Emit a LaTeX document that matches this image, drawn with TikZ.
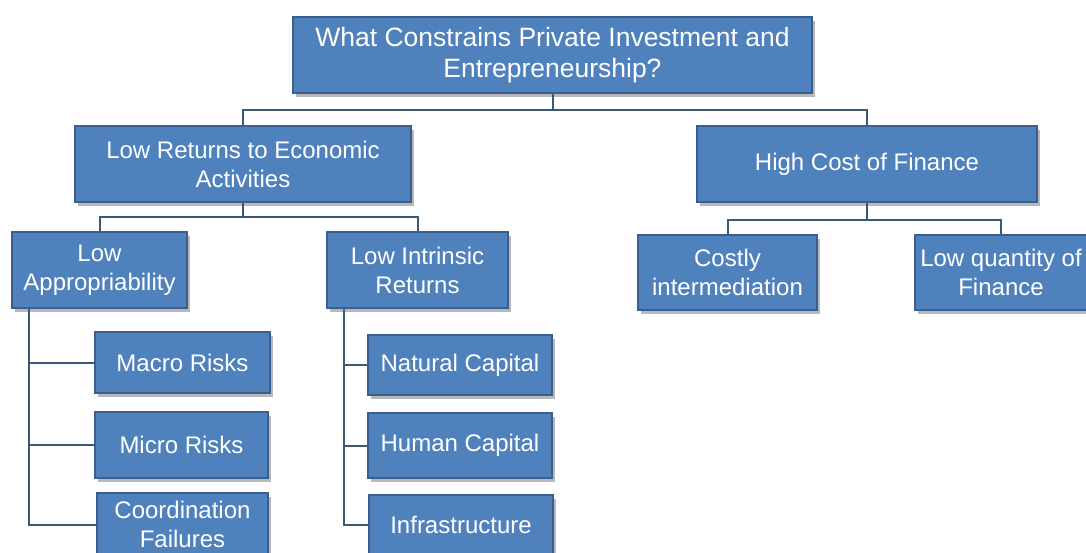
\documentclass[tikz,border=0pt]{standalone}
\usepackage{fontspec}
\setmainfont{Liberation Sans}
\usetikzlibrary{shadows}
\definecolor{boxfill}{HTML}{4F81BD}
\definecolor{boxline}{HTML}{3A5F8E}
\definecolor{connline}{HTML}{3B5877}
\tikzset{
  box/.style={draw=boxline, line width=1.6pt, fill=boxfill, text=white,
    align=center, inner sep=0pt, font=\fontsize{24}{29}\selectfont,
    drop shadow={shadow xshift=3pt, shadow yshift=-4pt, fill=black, opacity=0.28}},
  conn/.style={draw=connline, line width=2pt}
}
\begin{document}
\begin{tikzpicture}[x=1pt,y=-1pt]
\useasboundingbox (0,0) rectangle (1086,552);
\fill[white] (0,0) rectangle (1086,552);
% nodes
\node[box, minimum width=519, minimum height=76, font=\fontsize{26.5}{31}\selectfont] (root) at (552.5,55) {What Constrains Private Investment and\\Entrepreneurship?};
\node[box, minimum width=336, minimum height=76] (lowret) at (243,164) {Low Returns to Economic\\Activities};
\node[box, minimum width=340, minimum height=76] (highcost) at (867,164) {High Cost of Finance};
\node[box, minimum width=175, minimum height=76] (lowapp) at (99.5,270) {Low\\Appropriability};
\node[box, minimum width=181, minimum height=76] (lowint) at (417.5,270) {Low Intrinsic\\Returns};
\node[box, minimum width=179, minimum height=75] (costly) at (727.5,272.5) {Costly\\intermediation};
\node[box, minimum width=172, minimum height=75] (lowqty) at (1001,272.5) {Low quantity of\\Finance};
\node[box, minimum width=175, minimum height=61] (macro) at (182.5,362.5) {Macro Risks};
\node[box, minimum width=173, minimum height=66] (micro) at (181.5,445) {Micro Risks};
\node[box, minimum width=171, minimum height=63] (coord) at (182.5,524.5) {Coordination\\Failures};
\node[box, minimum width=184, minimum height=60] (natural) at (460,365) {Natural Capital};
\node[box, minimum width=184, minimum height=65] (human) at (460,445.5) {Human Capital};
\node[box, minimum width=184, minimum height=60] (infra) at (461,525) {Infrastructure};
% bus coordinates
\coordinate (bus1) at (0,110);
\coordinate (bus2) at (0,217);
\coordinate (bus3) at (0,220);
\coordinate (appstem) at ([xshift=18pt]lowapp.south west);
\coordinate (intstem) at ([xshift=18pt]lowint.south west);
% connectors
\begin{scope}[on background layer/.style={}]
\draw[conn] (root.south) -- (root.south |- bus1) -| (lowret.north);
\draw[conn] (root.south |- bus1) -| (highcost.north);
\draw[conn] (lowret.south) -- (lowret.south |- bus2) -| (lowapp.north);
\draw[conn] (lowret.south |- bus2) -| (lowint.north);
\draw[conn] (highcost.south) -- (highcost.south |- bus3) -| (costly.north);
\draw[conn] (highcost.south |- bus3) -| (lowqty.north);
\draw[conn] (appstem) |- (macro.west);
\draw[conn] (appstem) |- (micro.west);
\draw[conn] (appstem) |- (coord.west);
\draw[conn] (intstem) |- (natural.west);
\draw[conn] (intstem) |- (human.west);
\draw[conn] (intstem) |- (infra.west);
\end{scope}
\end{tikzpicture}
\end{document}
